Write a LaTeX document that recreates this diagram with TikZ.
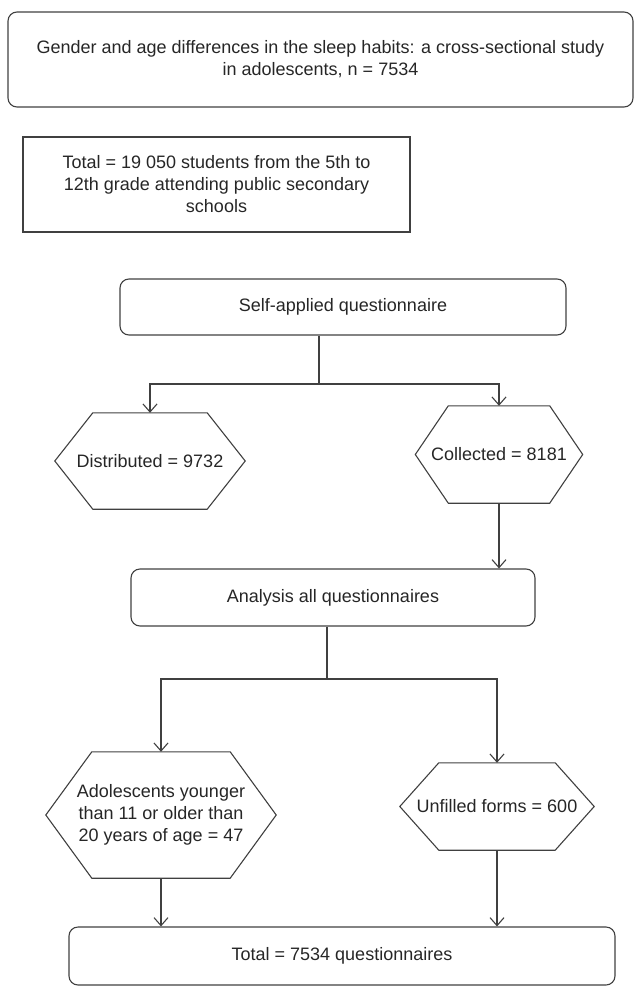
\documentclass[tikz,border=0pt]{standalone}
\usepackage{fontspec}
\setmainfont{Liberation Sans}
\usetikzlibrary{arrows.meta}
\begin{document}
\begin{tikzpicture}[x=1pt,y=-1pt,
		font=\fontsize{18}{22}\selectfont,
		line/.style={draw=black!75,line width=1.1pt},
		arr/.style={line,-{Straight Barb[length=8pt,width=14pt]}},
		rbox/.style={line,rounded corners=9pt,align=center,text=black!85},
		sbox/.style={line,align=center,text=black!85},
		hexa/.style={align=center,inner sep=0pt,text=black!85}]
				\useasboundingbox (0,0) rectangle (637,987);
				\node[rbox,minimum width=625pt,minimum height=95pt] (title) at (320.5,59.5) {Gender and age differences in the sleep habits: a cross-sectional study\\in adolescents, n = 7534};
				\node[sbox,minimum width=387pt,minimum height=95pt] (pop) at (216.5,184.5) {Total = 19 050 students from the 5th to\\12th grade attending public secondary\\schools};
				\node[rbox,minimum width=446pt,minimum height=56pt] (self) at (343,307) {Self-applied questionnaire};
				\node[hexa,minimum width=190pt,minimum height=96pt] (dist) at (150,461) {Distributed = 9732};
				\node[hexa,minimum width=167pt,minimum height=97pt] (coll) at (499,454.5) {Collected = 8181};
				\node[rbox,minimum width=404pt,minimum height=57pt] (anal) at (333,597.5) {Analysis all questionnaires};
				\node[hexa,minimum width=230pt,minimum height=126pt] (adol) at (161,815) {Adolescents younger\\than 11 or older than\\20 years of age = 47};
				\node[hexa,minimum width=194pt,minimum height=87pt] (unf) at (497,806.5) {Unfilled forms = 600};
				\node[rbox,minimum width=546pt,minimum height=58pt] (tot) at (342,956) {Total = 7534 questionnaires};
				% hexagon outlines round the count nodes
				\foreach \n/\c in {dist/38,coll/33,adol/46,unf/39}
					\draw[line] (\n.west) -- ([xshift=\c pt]\n.north west) -- ([xshift=-\c pt]\n.north east) -- (\n.east) -- ([xshift=-\c pt]\n.south east) -- ([xshift=\c pt]\n.south west) -- cycle;
				\coordinate (split1) at (319,384);
				\coordinate (split2) at (327,679);
				\draw[line] (self.south -| split1) to (split1);
				\draw[arr] (split1) -| (dist.north);
				\draw[arr] (split1) -| (coll.north);
				\draw[arr] (coll.south) to (coll.south |- anal.north);
				\draw[line] (anal.south -| split2) to (split2);
				\draw[arr] (split2) -| (adol.north);
				\draw[arr] (split2) -| (unf.north);
				\draw[arr] (adol.south) to (adol.south |- tot.north);
				\draw[arr] (unf.south) to (unf.south |- tot.north);
			\end{tikzpicture}
\end{document}
